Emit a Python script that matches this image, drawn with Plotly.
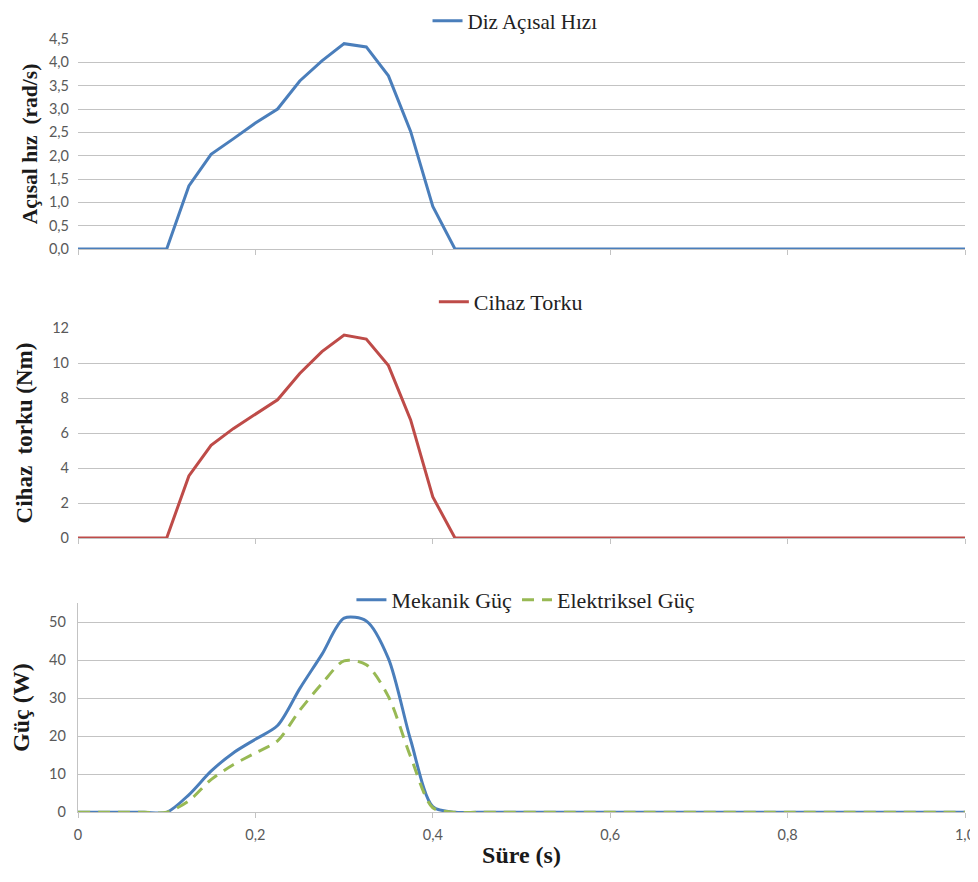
import plotly.graph_objects as go

# ---- data ----
time_s = [0.0, 0.025, 0.05, 0.075, 0.1, 0.125, 0.15, 0.175, 0.2, 0.225,
          0.25, 0.275, 0.3, 0.325, 0.35, 0.375, 0.4, 0.425, 0.45, 0.475,
          0.5, 0.525, 0.55, 0.575, 0.6, 0.625, 0.65, 0.675, 0.7, 0.725,
          0.75, 0.775, 0.8, 0.825, 0.85, 0.875, 0.9, 0.925, 0.95, 0.975, 1.0]

knee_speed = [0, 0, 0, 0, 0, 1.35, 2.03, 2.36, 2.70, 3.0,
              3.6, 4.03, 4.40, 4.33, 3.71, 2.52, 0.91, 0, 0, 0,
              0, 0, 0, 0, 0, 0, 0, 0, 0, 0,
              0, 0, 0, 0, 0, 0, 0, 0, 0, 0, 0]

device_torque = [0, 0, 0, 0, 0, 3.55, 5.3, 6.25, 7.1, 7.9,
                 9.4, 10.65, 11.6, 11.37, 9.85, 6.75, 2.35, 0, 0, 0,
                 0, 0, 0, 0, 0, 0, 0, 0, 0, 0,
                 0, 0, 0, 0, 0, 0, 0, 0, 0, 0, 0]

mech_power = [0, 0, 0, 0, 0, 4.6, 10.8, 15.6, 19.2, 22.8,
              32.5, 41.5, 51.0, 50.3, 40.4, 19.0, 1.5, 0, 0, 0,
              0, 0, 0, 0, 0, 0, 0, 0, 0, 0,
              0, 0, 0, 0, 0, 0, 0, 0, 0, 0, 0]

elec_power = [0, 0, 0, 0, 0, 3.0, 8.6, 12.5, 15.6, 18.8,
              26.8, 33.8, 39.8, 38.8, 30.4, 14.6, 1.2, 0, 0, 0,
              0, 0, 0, 0, 0, 0, 0, 0, 0, 0,
              0, 0, 0, 0, 0, 0, 0, 0, 0, 0, 0]

x_tickvals = [0, 0.2, 0.4, 0.6, 0.8, 1.0]
x_ticktext = ["0", "0,2", "0,4", "0,6", "0,8", "1,0"]

# ---- styling ----
BLUE = "#4A7EBB"
RED = "#BE4B48"
GREEN = "#98B954"
GRID = "#C3C3C3"
TICKFONT = dict(family="Lato", size=14.5, color="#595959")
SERIF = "Liberation Serif"

# the page body has an 8px margin; positions below are page pixels and the
# figure is sized so it does not overflow the window vertically
OFF = 8
W = 978 - OFF
H = 882.0 - 2 * OFF

def dom(top_px, bottom_px):
    return [1 - (bottom_px - OFF) / H, 1 - (top_px - OFF) / H]

def ly(page_y):
    return 1 - (page_y - OFF) / H

def tfont(size):
    return dict(family=SERIF, size=size, color="#1a1a1a", weight="bold")

fig = go.Figure()

fig.add_trace(go.Scatter(x=time_s, y=knee_speed, mode="lines", name="Diz Açısal Hızı",
                         line=dict(color=BLUE, width=3), xaxis="x", yaxis="y",
                         legend="legend"))
fig.add_trace(go.Scatter(x=time_s, y=device_torque, mode="lines", name="Cihaz Torku",
                         line=dict(color=RED, width=3), xaxis="x2", yaxis="y2",
                         legend="legend2"))
fig.add_trace(go.Scatter(x=time_s, y=mech_power, mode="lines", name="Mekanik Güç",
                         line=dict(color=BLUE, width=3, shape="spline", smoothing=0.8),
                         xaxis="x3", yaxis="y3", legend="legend3"))
fig.add_trace(go.Scatter(x=time_s, y=elec_power, mode="lines", name="Elektriksel Güç",
                         line=dict(color=GREEN, width=3, shape="spline", smoothing=0.8,
                                   dash="12px,8px"),
                         xaxis="x3", yaxis="y3", legend="legend3"))

common_x = dict(range=[0, 1.0], showgrid=False, zeroline=False, showline=True,
                linecolor=GRID, linewidth=1.3, ticks="outside", ticklen=5,
                tickcolor=GRID, tickwidth=1.3, tickvals=x_tickvals,
                ticktext=x_ticktext, tickfont=TICKFONT, fixedrange=True,
                automargin=False)

common_y = dict(showgrid=True, gridcolor=GRID, gridwidth=1.3, zeroline=False,
                showline=False, ticks="", tickfont=TICKFONT, ticklabelstandoff=8,
                automargin=False)

legend_font = dict(family=SERIF, size=22, color="#222")

fig.update_layout(
    width=W, height=H,
    margin=dict(l=78 - OFF, r=13, t=0, b=0, autoexpand=False),
    paper_bgcolor="white", plot_bgcolor="white",
    separators=",.",
    showlegend=True,
    xaxis=dict(common_x, domain=[0, 1], anchor="y", showticklabels=False),
    yaxis=dict(common_y, domain=dom(39, 249), range=[0, 4.5], dtick=0.5,
               tickformat=".1f", anchor="x",
               title=dict(text="Açısal hız  (rad/s)", font=tfont(21.5), standoff=5)),
    xaxis2=dict(common_x, domain=[0, 1], anchor="y2", showticklabels=False),
    yaxis2=dict(common_y, domain=dom(328, 538), range=[0, 12], dtick=2, anchor="x2",
                title=dict(text="Cihaz  torku (Nm)", font=tfont(23), standoff=13)),
    xaxis3=dict(common_x, domain=[0, 1], anchor="y3", ticklabelstandoff=4,
                title=dict(text="Süre (s)", font=tfont(24), standoff=4)),
    yaxis3=dict(common_y, domain=dom(603, 812.3), range=[0, 55], dtick=10, anchor="x3",
                showline=True, linecolor=GRID, linewidth=1.3,
                title=dict(text="Güç (W)", font=tfont(24), standoff=12)),
    legend=dict(x=0.4927, y=ly(21), xanchor="center", yanchor="middle",
                orientation="h", font=dict(legend_font, size=21),
                bgcolor="rgba(0,0,0,0)", itemwidth=30),
    legend2=dict(x=0.488, y=ly(302), xanchor="center", yanchor="middle",
                 orientation="h", font=legend_font,
                 bgcolor="rgba(0,0,0,0)", itemwidth=30),
    legend3=dict(x=0.505, y=ly(600), xanchor="center", yanchor="middle",
                 orientation="h", font=legend_font,
                 bgcolor="rgba(0,0,0,0)", itemwidth=30),
)

fig.write_html("out.html")
